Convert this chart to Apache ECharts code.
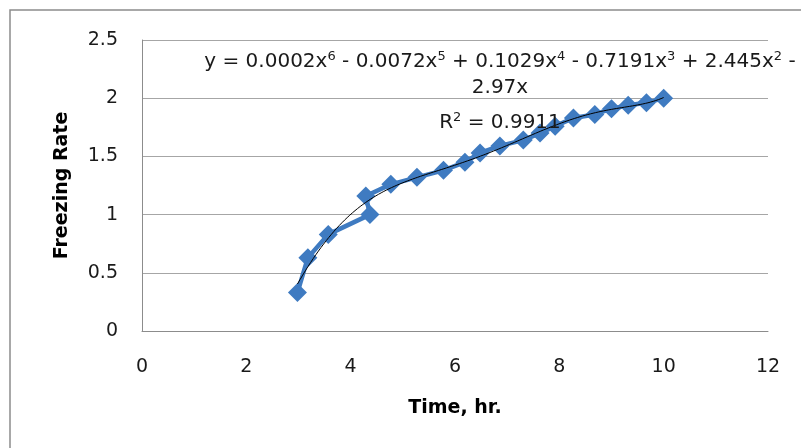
<!DOCTYPE html>
<html>
<head>
<meta charset="utf-8">
<title>Freezing Rate</title>
<script src="https://cdn.jsdelivr.net/npm/echarts/dist/echarts.min.js"></script>
<style>
  html, body { margin: 0; padding: 0; background: #fff; }
  #chart { width: 801px; height: 448px; }
</style>
</head>
<body>
<div id="chart"></div>
<script>
// data (in plotting order)
var timeHr = [2.98, 3.18, 3.57, 4.37, 4.29, 4.77, 5.27, 5.78, 6.19, 6.48, 6.86, 7.31, 7.63, 7.92, 8.27, 8.68, 9.0, 9.32, 9.67, 10.0];
var freezingRate = [0.33, 0.63, 0.83, 1.0, 1.16, 1.26, 1.32, 1.38, 1.45, 1.53, 1.59, 1.64, 1.70, 1.76, 1.83, 1.86, 1.91, 1.94, 1.96, 2.0];
// trendline label, {s|..} = superscript
var eqLine1 = 'y = 0.0002x{s|6} - 0.0072x{s|5} + 0.1029x{s|4} - 0.7191x{s|3} + 2.445x{s|2} -';
var eqLine2 = '2.97x';
var rSquared = 'R{s|2} = 0.9911';

var blue = '#3F7BC1';
var axisGray = '#8c8c8c';
var txtFont = '"DejaVu Sans", "Liberation Sans", sans-serif';

//polynomial trendline, order 6, intercept = 0 (least squares)
function polyFit0(xs, ys, deg) {
  var s = 10; // scale x to keep numbers sane
  var A = [], b = [];
  for (var i = 0; i < deg; i++) {
    A.push([]);
    for (var j = 0; j < deg; j++) A[i].push(0);
    b.push(0);
  }
  for (var k = 0; k < xs.length; k++) {
    var t = xs[k] / s;
    for (var i = 0; i < deg; i++) {
      var ti = Math.pow(t, i + 1);
      b[i] += ti * ys[k];
      for (var j = 0; j < deg; j++) A[i][j] += ti * Math.pow(t, j + 1);
    }
  }
  // gauss elimination
  for (var c = 0; c < deg; c++) {
    var p = c;
    for (var r = c + 1; r < deg; r++) if (Math.abs(A[r][c]) > Math.abs(A[p][c])) p = r;
    var tmp = A[c]; A[c] = A[p]; A[p] = tmp;
    var tb = b[c]; b[c] = b[p]; b[p] = tb;
    for (var r = c + 1; r < deg; r++) {
      var f = A[r][c] / A[c][c];
      for (var j = c; j < deg; j++) A[r][j] -= f * A[c][j];
      b[r] -= f * b[c];
    }
  }
  var coef = [];
  for (var i = deg - 1; i >= 0; i--) {
    var sum = b[i];
    for (var j = i + 1; j < deg; j++) sum -= A[i][j] * coef[j];
    coef[i] = sum / A[i][i];
  }
  return function (x) {
    var t = x / s, y = 0;
    for (var i = 0; i < deg; i++) y += coef[i] * Math.pow(t, i + 1);
    return y;
  };
}

var fit = polyFit0(timeHr, freezingRate, 6);
var xMin = Math.min.apply(null, timeHr), xMax = Math.max.apply(null, timeHr);
var trend = [];
for (var n = 0; n <= 140; n++) {
  var xx = xMin + (xMax - xMin) * n / 140;
  trend.push([xx, fit(xx)]);
}

var points = timeHr.map(function (x, i) { return [x, freezingRate[i]]; });

var eqRich = {
  s: { fontFamily: txtFont, fontSize: 13, verticalAlign: 'top', lineHeight: 23, fill: '#1a1a1a' }
};
function eqText(x, y, txt) {
  return {
    type: 'text', x: x, y: y, z: 10,
    style: {
      text: txt,
      fontFamily: txtFont, fontSize: 20, lineHeight: 23,
      fill: '#1a1a1a',
      textAlign: 'center', textVerticalAlign: 'middle',
      rich: eqRich
    }
  };
}

var chart = echarts.init(document.getElementById('chart'), null, { renderer: 'canvas' });
var option = {
  animation: false,
  backgroundColor: '#fff',
  grid: { left: 142, right: 33, top: 40, bottom: 117 },
  xAxis: {
    type: 'value',
    min: 0, max: 12, interval: 2,
    name: 'Time, hr.',
    nameLocation: 'middle',
    nameGap: 68,
    nameTextStyle: { fontFamily: txtFont, fontSize: 19, fontWeight: 'bold', color: '#000' },
    axisLine: { show: true, lineStyle: { color: axisGray, width: 1 } },
    axisTick: { show: false },
    splitLine: { show: false },
    axisLabel: { margin: 27, fontFamily: txtFont, fontSize: 19, color: '#1a1a1a' }
  },
  yAxis: {
    type: 'value',
    min: 0, max: 2.5, interval: 0.5,
    name: 'Freezing Rate',
    nameLocation: 'middle',
    nameGap: 70,
    nameTextStyle: { fontFamily: txtFont, fontSize: 19, fontWeight: 'bold', color: '#000' },
    axisLine: { show: true, lineStyle: { color: axisGray, width: 1 } },
    axisTick: { show: false },
    splitLine: { show: true, lineStyle: { color: '#a6a6a6', width: 1 } },
    axisLabel: { margin: 24, fontFamily: txtFont, fontSize: 19, color: '#1a1a1a' }
  },
  series: [
    {
      type: 'line',
      data: points,
      symbol: 'diamond',
      symbolSize: 19,
      itemStyle: { color: blue },
      lineStyle: { color: blue, width: 4.5 },
      z: 2
    },
    {
      type: 'line',
      data: trend,
      showSymbol: false,
      symbol: 'none',
      lineStyle: { color: '#000', width: 1 },
      z: 3
    }
  ],
  graphic: [
    {
      type: 'rect',
      shape: { x: 10, y: 10, width: 900, height: 600 },
      style: { fill: 'none', stroke: axisGray, lineWidth: 1.5 },
      silent: true
    },
    eqText(500, 62, eqLine1),
    eqText(500, 88, eqLine2),
    eqText(500, 123, rSquared)
  ]
};
chart.setOption(option);
</script>
</body>
</html>
